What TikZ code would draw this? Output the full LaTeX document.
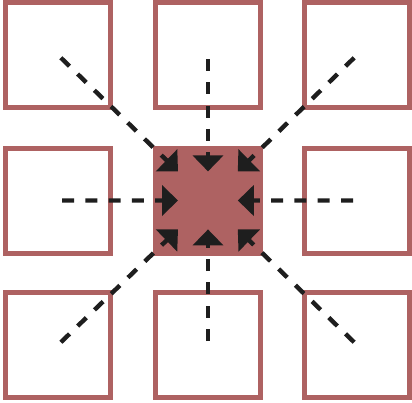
\documentclass[tikz,border=0pt]{standalone}
\usetikzlibrary{arrows.meta,calc}
\definecolor{sqred}{RGB}{174,98,98}
\definecolor{ink}{RGB}{30,30,30}
\begin{document}
\begin{tikzpicture}[x=1pt,y=-1pt,
  sq/.style={draw=sqred,line width=5pt,minimum size=105pt,inner sep=0pt,fill=white},
  hub/.style={sq,fill=sqred},
  conn/.style={draw=ink,line width=4.4pt,dash pattern=on 12pt off 11.3pt,
    -{Triangle[width=30pt,length=16pt]}}]
\useasboundingbox (0,0) rectangle (412,402);
\node[sq] (tl) at (58,55) {};
\node[sq] (tm) at (208,55) {};
\node[sq] (tr) at (357,55) {};
\node[sq] (ml) at (58,200.5) {};
\node[hub] (c) at (208,200.5) {};
\node[sq] (mr) at (357,200.5) {};
\node[sq] (bl) at (58,345) {};
\node[sq] (bm) at (208,345) {};
\node[sq] (br) at (357,345) {};
\foreach \n in {tl,tm,tr,ml,mr,bl,bm,br}
  \draw[conn] ($(\n.center)!4pt!(c.center)$) -- ($(c.center)!0.2!(\n.center)$);
\end{tikzpicture}
\end{document}
